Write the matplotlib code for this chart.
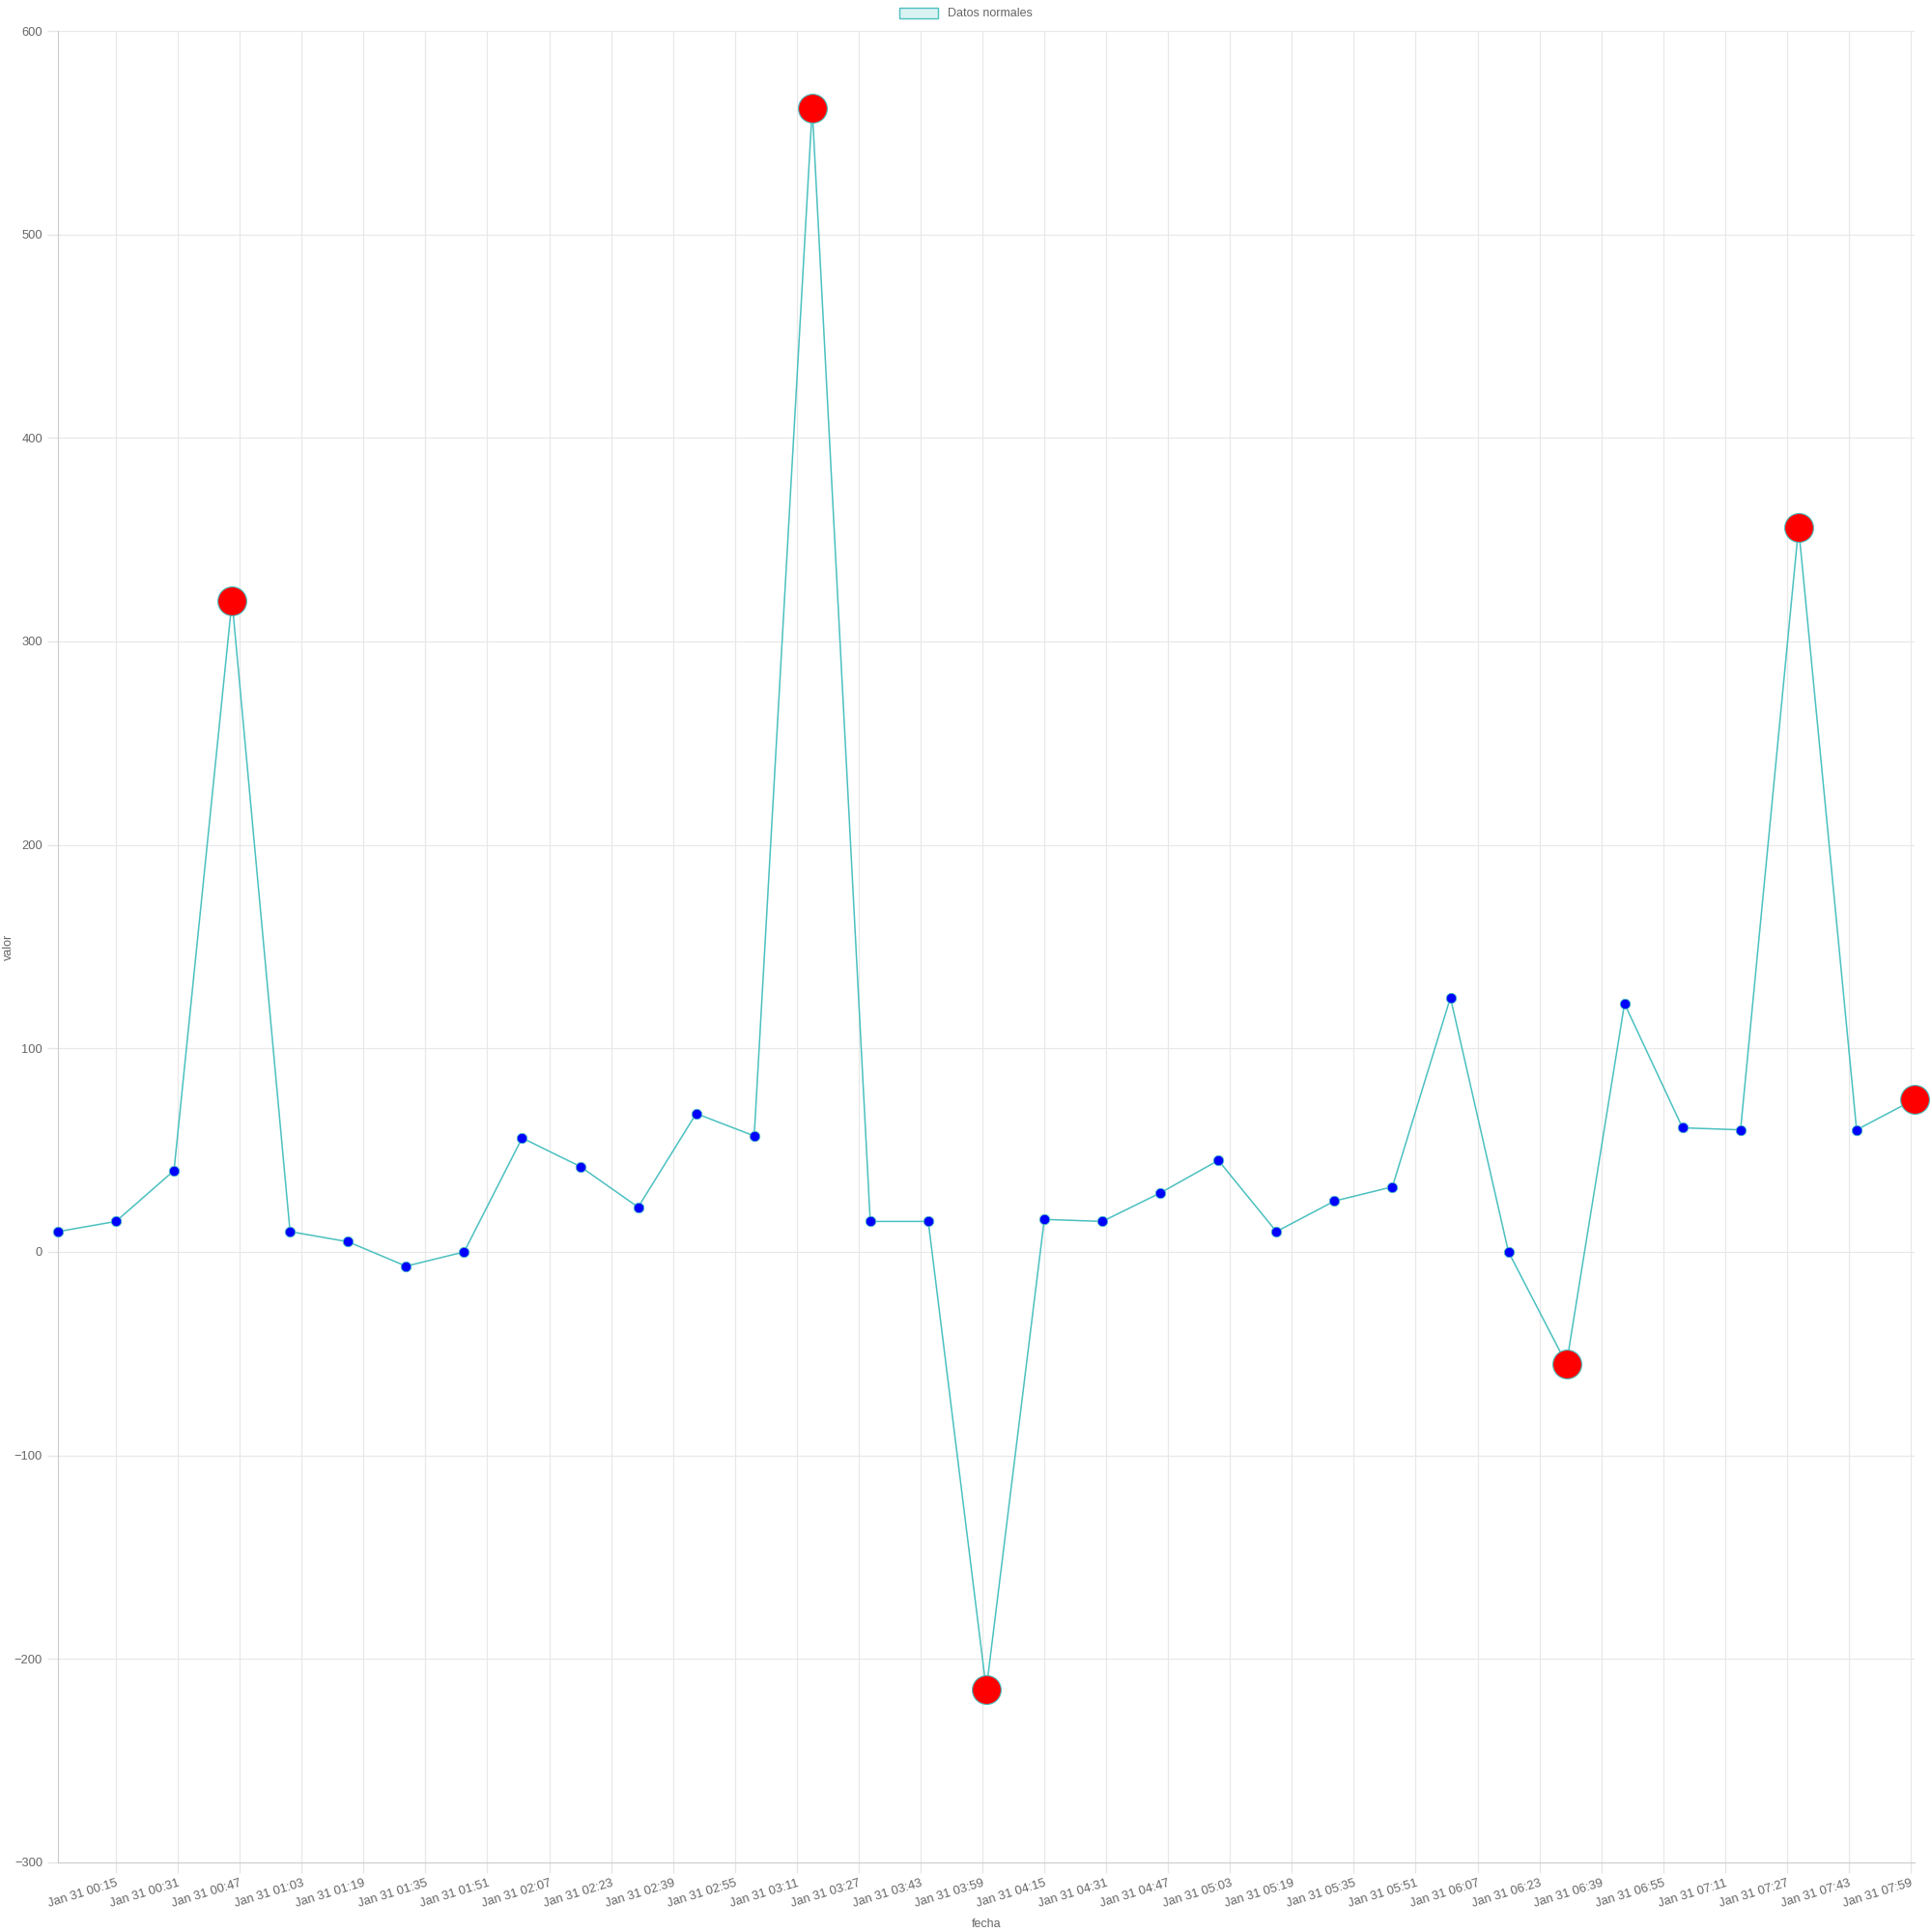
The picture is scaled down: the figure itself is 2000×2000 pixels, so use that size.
import numpy as np
import pandas as pd
import matplotlib
matplotlib.use('Agg')
import matplotlib.pyplot as plt
import matplotlib.dates as mdates
from matplotlib.patches import Patch

plt.rcParams['font.family'] = ['Liberation Sans', 'DejaVu Sans']

# Data: one reading every 15 minutes, Jan 31 00:00 -> 08:00
times = pd.date_range('2024-01-31 00:00', '2024-01-31 08:00', freq='15min')
values = [10, 15, 40, 320, 10, 5, -7, 0, 56, 42, 22, 68, 57, 562, 15, 15, -215,
          16, 15, 29, 45, 10, 25, 32, 125, 0, -55, 122, 61, 60, 356, 60, 75]
anomaly_idx = [3, 13, 16, 26, 30, 32]  # points flagged in red
tick_times = pd.date_range('2024-01-31 00:15', '2024-01-31 07:59', freq='16min')

teal = '#4bc0c0'
txt = '#666666'

fig = plt.figure(figsize=(20, 20), dpi=100)
ax = fig.add_axes([0.03, 0.036, 0.961, 0.948])

ax.plot(times, values, color=teal, lw=1.1, zorder=2, clip_on=False)
normal = [i for i in range(len(values)) if i not in anomaly_idx]
ax.plot(times[normal], np.array(values)[normal], 'o', ms=7.5, mfc='#0000ff',
        mec=teal, mew=0.6, zorder=3, clip_on=False)
ax.plot(times[anomaly_idx], np.array(values)[anomaly_idx], 'o', ms=21.5,
        mfc='#ff0000', mec=teal, mew=0.8, zorder=4, clip_on=False)

ax.set_xlim(times[0], times[-1])
ax.set_ylim(-300, 600)
ax.set_yticks(np.arange(-300, 601, 100))
ax.set_xticks(tick_times)
ax.xaxis.set_major_formatter(mdates.DateFormatter('Jan 31 %H:%M'))
for lbl in ax.get_xticklabels():
    lbl.set_rotation(17)
    lbl.set_ha('right')
    lbl.set_rotation_mode('anchor')

ax.grid(True, color='#e8e8e8', lw=0.9)
ax.set_axisbelow(True)
for s in ['top', 'right']:
    ax.spines[s].set_visible(False)
for s in ['left', 'bottom']:
    ax.spines[s].set_color('#cccccc')
ax.tick_params(colors='#e6e6e6', labelcolor=txt, labelsize=9.3, length=8, width=1)

ax.set_xlabel('fecha', color=txt, fontsize=9, labelpad=6)
ax.set_ylabel('valor', color=txt, fontsize=9)
ax.yaxis.set_label_coords(-0.0234, 0.5)

handle = Patch(facecolor=(75/255, 192/255, 192/255, 0.2), edgecolor=teal, lw=1)
fig.legend([handle], ['Datos normales'], loc='upper center', bbox_to_anchor=(0.5, 1.0),
           frameon=False, fontsize=9, labelcolor=txt, handlelength=3.2,
           handleheight=1.0, borderaxespad=0.2)

fig.savefig('out.png', dpi=100)
